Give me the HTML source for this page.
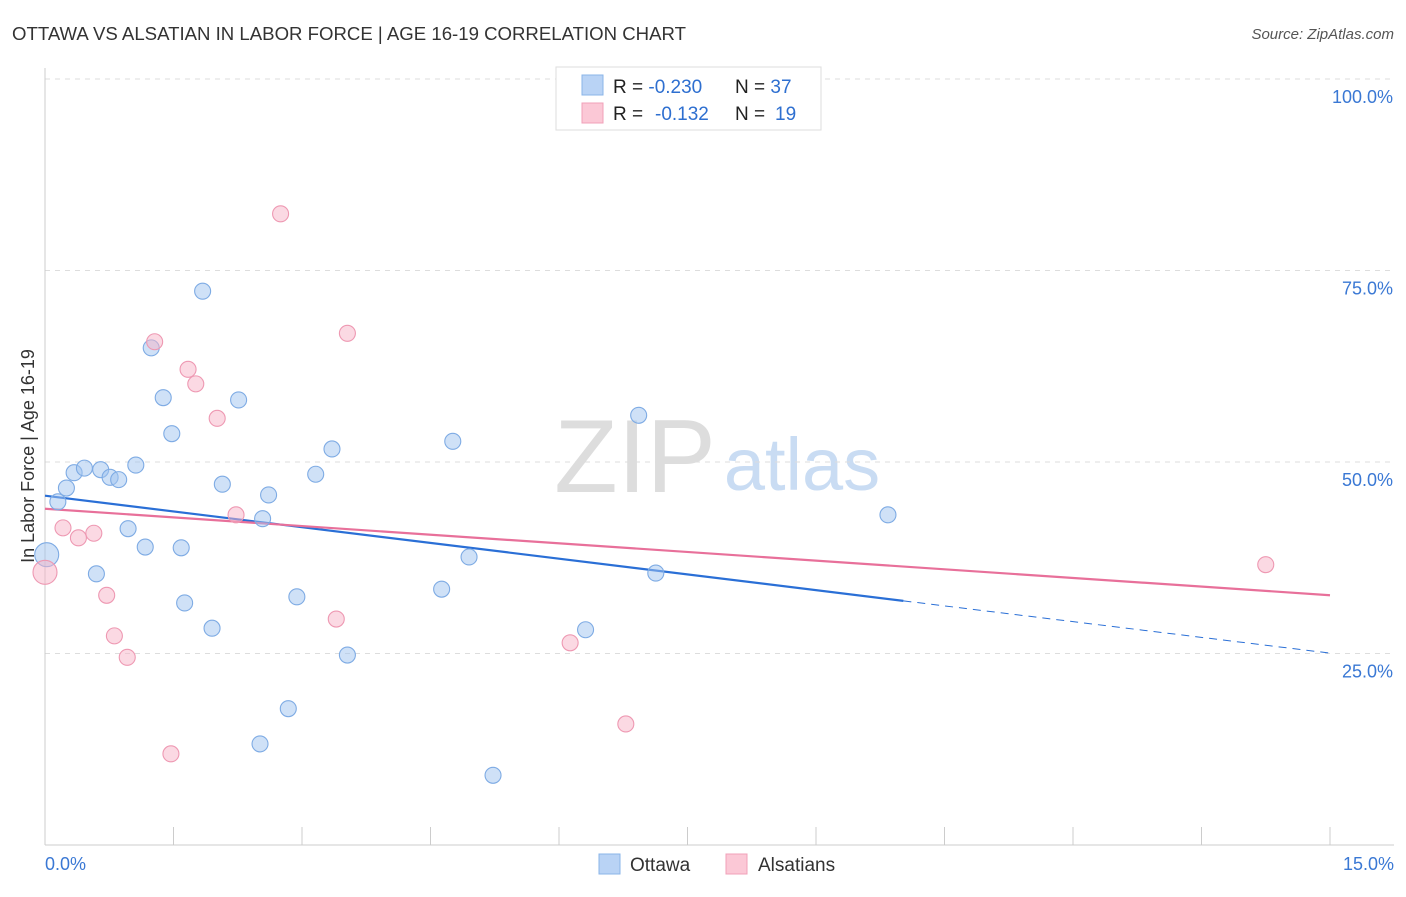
<!DOCTYPE html>
<html><head><meta charset="utf-8">
<style>
body{margin:0;background:#fff;font-family:"Liberation Sans",sans-serif;}
svg text{font-family:"Liberation Sans",sans-serif;}
</style></head><body>
<svg id="chart" width="1406" height="892" xmlns="http://www.w3.org/2000/svg">
<text x="12" y="40" font-size="18" fill="#333" textLength="674" lengthAdjust="spacingAndGlyphs">OTTAWA VS ALSATIAN IN LABOR FORCE | AGE 16-19 CORRELATION CHART</text>
<text x="1394" y="39" font-size="15" fill="#555" font-style="italic" text-anchor="end">Source: ZipAtlas.com</text>
<text x="34" y="456" font-size="18" fill="#333" text-anchor="middle" transform="rotate(-90 34 456)">In Labor Force | Age 16-19</text>
<g>
<text x="635" y="492" font-size="104" fill="#ddd" text-anchor="middle" font-family="Liberation Serif">ZIP</text>
<text x="802" y="490" font-size="74" fill="#c9dcf3" text-anchor="middle">atlas</text>
</g>
<g id="grid"></g>
<g id="axes"></g>
<g id="lines"></g>
<g id="points"></g>
<g>
<rect x="556" y="67" width="265" height="63" fill="#fff" stroke="#ddd"/>
<rect x="582" y="75" width="21" height="20" fill="#b9d3f5" stroke="#8ab4e8"/>
<rect x="582" y="103" width="21" height="20" fill="#fbc8d6" stroke="#f0a0b8"/>
<text x="613" y="93" font-size="19" fill="#222">R = <tspan fill="#2e6fd0">-0.230</tspan><tspan x="735">N = </tspan><tspan fill="#2e6fd0">37</tspan></text>
<text x="613" y="120" font-size="19" fill="#222">R = <tspan x="655" fill="#2e6fd0">-0.132</tspan><tspan x="735">N = </tspan><tspan x="775" fill="#2e6fd0">19</tspan></text>
</g>
<g>
<rect x="599" y="854" width="21" height="20" fill="#b9d3f5" stroke="#8ab4e8"/>
<text x="630" y="871" font-size="19" fill="#333">Ottawa</text>
<rect x="726" y="854" width="21" height="20" fill="#fbc8d6" stroke="#f0a0b8"/>
<text x="758" y="871" font-size="19" fill="#333">Alsatians</text>
</g>
</svg>
<script>
const ottawaX=[0.02,0.15,0.25,0.34,0.46,0.65,0.76,0.86,1.06,0.60,0.97,1.17,1.24,1.38,1.48,1.59,1.63,1.84,1.95,2.07,2.26,2.54,2.61,2.84,2.51,2.94,3.16,3.35,3.53,4.63,4.76,4.95,5.23,6.31,6.93,7.13,9.84];
const ottawaY=[37.9,44.8,46.6,48.6,49.2,49.0,48.0,47.7,49.6,35.4,41.3,38.9,64.9,58.4,53.7,38.8,31.6,72.3,28.3,47.1,58.1,42.6,45.7,17.8,13.2,32.4,48.4,51.7,24.8,33.4,52.7,37.6,9.1,28.1,56.1,35.5,43.1];
const alsX=[0,0.21,0.39,0.57,0.72,0.81,0.96,1.28,1.47,1.67,1.76,2.01,2.23,2.75,3.40,3.53,6.13,6.78,14.25];
const alsY=[35.6,41.4,40.1,40.7,32.6,27.3,24.5,65.7,11.9,62.1,60.2,55.7,43.1,82.4,29.5,66.8,26.4,15.8,36.6];
const trendIntercepts=[45.6,43.9];
const trendSlopes=[-1.37,-0.753];
const yTicks=[25,50,75,100];
const xTickLabels=["0.0%","15.0%"];
const NS="http://www.w3.org/2000/svg";
const sx=v=>45+v*(1285/15);
const sy=v=>845-v*7.66;
function mk(tag,attrs,parent){const e=document.createElementNS(NS,tag);for(const k in attrs)e.setAttribute(k,attrs[k]);parent.appendChild(e);return e;}
const grid=document.getElementById('grid'),axes=document.getElementById('axes'),lines=document.getElementById('lines'),pts=document.getElementById('points');
yTicks.forEach(t=>{
 const l=mk('line',{x1:45,x2:1394,y1:sy(t),y2:sy(t),stroke:'#ddd','stroke-dasharray':'5,5'},grid);
 
 
 const tx=mk('text',{x:1393,y:sy(t)+24,'font-size':18,fill:'#3a78d4','text-anchor':'end'},axes);
 tx.textContent=t.toFixed(1)+'%';
 
 
});
mk('line',{x1:45,x2:45,y1:68,y2:845,stroke:'#ccc'},axes);
const xa=mk('line',{x1:45,x2:1394,y1:845,y2:845,stroke:'#ccc'},axes);


for(let i=0;i<=10;i++){mk('line',{x1:sx(i*1.5),x2:sx(i*1.5),y1:827,y2:845,stroke:'#ccc'},axes);}
const xl0=mk('text',{x:45,y:870,'font-size':18,fill:'#3a78d4'},axes);xl0.textContent=xTickLabels[0];


const xl1=mk('text',{x:1394,y:870,'font-size':18,fill:'#3a78d4','text-anchor':'end'},axes);xl1.textContent=xTickLabels[1];


function drawPts(X,Y,fill,stroke,name){X.forEach((x,i)=>{const r=x<0.05?12:8;const c=mk('circle',{cx:sx(x),cy:sy(Y[i]),r:r,fill:fill,stroke:stroke,'stroke-width':1.1},pts);
 
 });}
drawPts(ottawaX,ottawaY,'rgba(160,196,240,0.5)','#7eabe4','ottawa-point');
drawPts(alsX,alsY,'rgba(248,180,200,0.5)','#ee98b2','alsatian-point');
const xEnd=Math.max(...ottawaX)+0.18;
const b1=mk('line',{x1:sx(0),y1:sy(trendIntercepts[0]),x2:sx(xEnd),y2:sy(trendIntercepts[0]+trendSlopes[0]*xEnd),stroke:'#2a6fd6','stroke-width':2.2},lines);


const b2=mk('line',{x1:sx(xEnd),y1:sy(trendIntercepts[0]+trendSlopes[0]*xEnd),x2:sx(15),y2:sy(trendIntercepts[0]+trendSlopes[0]*15),stroke:'#2a6fd6','stroke-width':1,'stroke-dasharray':'8,6'},lines);


const p1=mk('line',{x1:sx(0),y1:sy(trendIntercepts[1]),x2:sx(15),y2:sy(trendIntercepts[1]+trendSlopes[1]*15),stroke:'#e8709a','stroke-width':2.2},lines);


</script>
</body></html>
